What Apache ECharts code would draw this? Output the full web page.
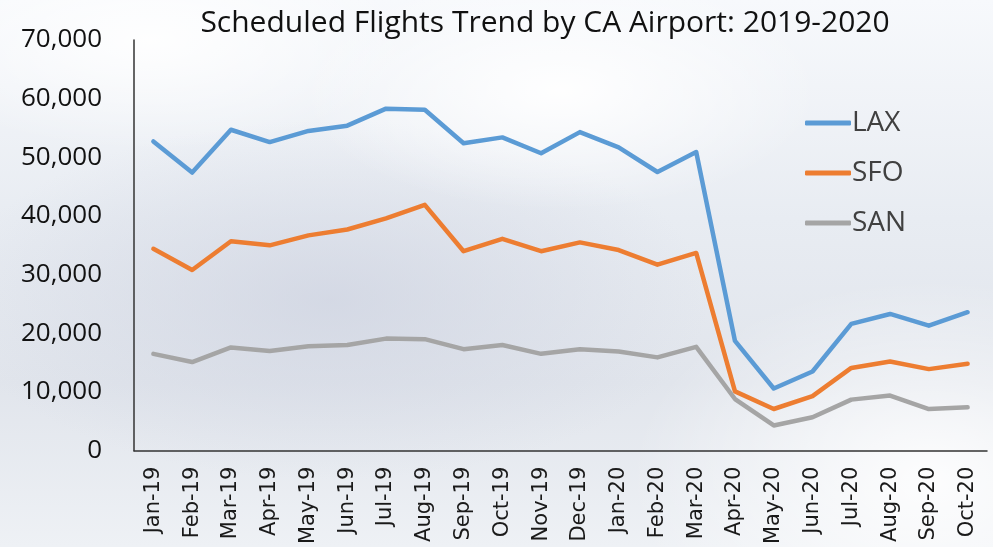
<!DOCTYPE html>
<html>
<head>
<meta charset="utf-8">
<script src="https://cdn.jsdelivr.net/npm/echarts@6/dist/echarts.min.js"></script>
<style>
  html, body { margin: 0; padding: 0; }
  #chart {
    width: 993px;
    height: 547px;
    background:
      radial-gradient(ellipse 260px 120px at 560px 90px, rgba(255,255,255,0.95), rgba(255,255,255,0)),
      radial-gradient(ellipse 300px 200px at 930px 480px, rgba(255,255,255,0.9), rgba(255,255,255,0)),
      radial-gradient(ellipse 260px 110px at 150px 40px, rgba(255,255,255,0.9), rgba(255,255,255,0)),
      radial-gradient(ellipse 380px 180px at 330px 300px, rgba(205,210,224,0.7), rgba(205,210,224,0)),
      linear-gradient(180deg, #f7f9fc 0%, #e8ecf2 40%, #e1e5ec 70%, #eef1f5 100%);
  }
</style>
</head>
<body>
<div id="chart"></div>
<script>
  // 月份
  const months = ["Jan-19", "Feb-19", "Mar-19", "Apr-19", "May-19", "Jun-19", "Jul-19", "Aug-19",
    "Sep-19", "Oct-19", "Nov-19", "Dec-19", "Jan-20", "Feb-20", "Mar-20", "Apr-20",
    "May-20", "Jun-20", "Jul-20", "Aug-20", "Sep-20", "Oct-20"];

  const lax = [52700, 47400, 54700, 52600, 54500, 55400, 58300, 58100, 52400, 53400, 50700, 54300,
    51700, 47500, 50900, 18700, 10600, 13500, 21600, 23300, 21300, 23600];
  const sfo = [34400, 30800, 35700, 35000, 36700, 37700, 39600, 41900, 34000, 36100, 34000, 35500,
    34200, 31700, 33700, 10100, 7100, 9300, 14100, 15200, 13900, 14800];
  const san = [16500, 15100, 17600, 17000, 17800, 18000, 19100, 19000, 17300, 18000, 16500, 17300,
    16900, 15900, 17700, 8800, 4300, 5700, 8700, 9400, 7100, 7400];

  const chart = echarts.init(document.getElementById("chart"));

  function line(name, data, color) {
    return {
      name: name,
      type: "line",
      data: data,
      symbol: "none",
      smooth: false,
      lineStyle: { color: color, width: 4.5, cap: "round", join: "round" },
      itemStyle: { color: color },
    };
  }

  chart.setOption({
    backgroundColor: "transparent",
    title: {
      text: "Scheduled Flights Trend by CA Airport: 2019-2020",
      left: 540,
      textAlign: "center",
      top: 3,
      textStyle: { fontFamily: "Open Sans", fontWeight: "normal", fontSize: 30, color: "#111" },
    },
    legend: {
      orient: "vertical",
      left: 800,
      top: 104,
      itemGap: 22,
      itemWidth: 46,
      itemHeight: 5,
      icon: "roundRect",
      textStyle: { fontFamily: "Open Sans", fontSize: 28, color: "#404040", padding: [0, 0, 0, -4] },
    },
    grid: { left: 134, top: 40, right: 6, bottom: 95, containLabel: false },
    xAxis: {
      type: "category",
      data: months,
      boundaryGap: true,
      axisLine: { lineStyle: { color: "#333", width: 1.5 } },
      axisTick: { show: false },
      axisLabel: {
        rotate: 90,
        interval: 0,
        margin: 16,
        fontFamily: "DejaVu Sans",
        fontSize: 21,
        color: "#1a1a1a",
      },
    },
    yAxis: {
      type: "value",
      min: 0,
      max: 70000,
      interval: 10000,
      axisLine: { show: true, lineStyle: { color: "#333", width: 1.5 } },
      axisTick: { show: false },
      splitLine: { show: false },
      axisLabel: {
        margin: 32,
        fontFamily: "Open Sans",
        fontSize: 26,
        color: "#111",
        formatter: (v) => v.toLocaleString("en-US"),
      },
    },
    series: [
      line("LAX", lax, "#5b9bd5"),
      line("SFO", sfo, "#ed7d31"),
      line("SAN", san, "#a5a5a5"),
    ],
  });
</script>
</body>
</html>
